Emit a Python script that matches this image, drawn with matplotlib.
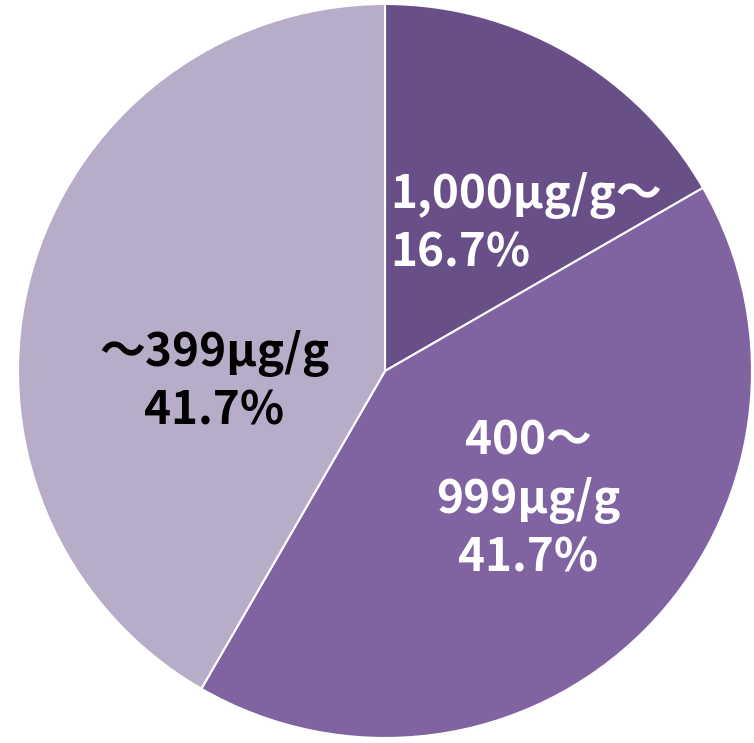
import matplotlib
matplotlib.use("Agg")
import matplotlib.pyplot as plt

plt.rcParams['font.family'] = ['Noto Sans CJK JP', 'DejaVu Sans']

labels = ['1,000μg/g～', '400～\n999μg/g', '～399μg/g']
shares = [16.7, 41.7, 41.7]
colors = ['#694F87', '#8064A2', '#B8ADC9']
text_colors = ['white', 'white', 'black']

W, H = 754, 743
fig = plt.figure(figsize=(W / 100, H / 100), dpi=100)
ax = fig.add_axes([0, 0, 1, 1])

cx, cy, r = 385, H - 371, 367
ax.pie(shares, colors=colors, startangle=90, counterclock=False,
       center=(cx, cy), radius=r, frame=True,
       wedgeprops=dict(edgecolor='white', linewidth=1.5))
ax.set_xlim(0, W)
ax.set_ylim(0, H)
ax.set_aspect('equal')
ax.axis('off')

# label anchor points (pixel offsets from top-left)
pos = [(390, 224, 'left'), (528, 500, 'center'), (214, 382, 'center')]
for lab, val, (x, y, ha), tc in zip(labels, shares, pos, text_colors):
    ax.text(x, H - y, f'{lab}\n{val:.1f}%', ha=ha, va='center',
            multialignment=ha, color=tc, fontsize=33, fontweight='bold',
            linespacing=1.33)

fig.savefig('out.png', dpi=100)
